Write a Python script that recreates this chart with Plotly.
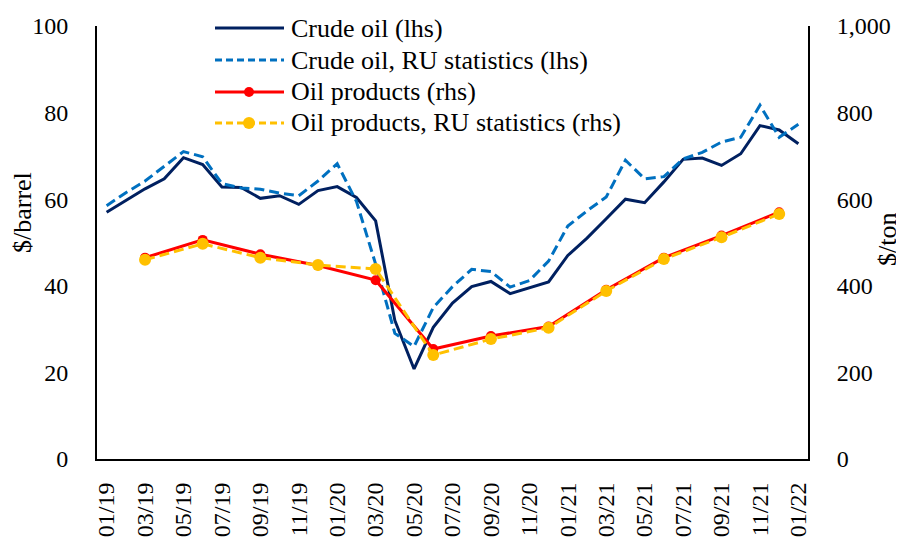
import plotly.graph_objects as go

months = ["01/19","02/19","03/19","04/19","05/19","06/19","07/19","08/19","09/19","10/19","11/19","12/19",
          "01/20","02/20","03/20","04/20","05/20","06/20","07/20","08/20","09/20","10/20","11/20","12/20",
          "01/21","02/21","03/21","04/21","05/21","06/21","07/21","08/21","09/21","10/21","11/21","12/21",
          "01/22"]
crude = [57, 59.7, 62.4, 64.7, 69.6, 68, 62.8, 62.7, 60.2, 60.8, 58.8, 62,
         62.9, 60.4, 55, 32, 20.8, 30.4, 36, 39.8, 41, 38.2, 39.5, 40.9,
         47, 51, 55.5, 60, 59.2, 64, 69.2, 69.5, 67.8, 70.5, 77, 76,
         72.8]
crude_ru = [58.5, 61.5, 64.2, 67.5, 71, 69.8, 63.6, 62.6, 62.3, 61.4, 60.8, 64.2,
            68.2, 59.5, 45, 29, 26, 35, 39.8, 43.8, 43.3, 39.7, 41.2, 45.7,
            53.8, 57.3, 60.5, 69, 64.7, 65.2, 69.3, 70.8, 73.2, 74.3, 81.7, 74.3,
            77.3]
prod_months = ["03/19","06/19","09/19","12/19","03/20","06/20","09/20","12/20","03/21","06/21","09/21","12/21"]
products = [465, 506, 473, 447, 413, 254, 284, 306, 391, 465, 516, 570]
products_ru = [460, 497, 465, 448, 439, 240, 277, 303, 388, 462, 512, 566]
tick_labels = months[::2]

names = ["Crude oil (lhs)", "Crude oil, RU statistics (lhs)", "Oil products (rhs)", "Oil products, RU statistics (rhs)"]
NAVY, BLUE, RED, GOLD = "#002060", "#0070C0", "#FF0000", "#FFC000"
FONT = "Liberation Serif, Times New Roman, serif"
FS = 24
FL = 26

fig = go.Figure()
fig.add_trace(go.Scatter(x=months, y=crude, mode="lines", name=names[0],
                         line=dict(color=NAVY, width=3)))
fig.add_trace(go.Scatter(x=months, y=crude_ru, mode="lines", name=names[1],
                         line=dict(color=BLUE, width=3, dash="10px,5px")))
fig.add_trace(go.Scatter(x=prod_months, y=products, mode="lines+markers", name=names[2], yaxis="y2",
                         line=dict(color=RED, width=3), marker=dict(color=RED, size=10)))
fig.add_trace(go.Scatter(x=prod_months, y=products_ru, mode="lines+markers", name=names[3], yaxis="y2",
                         line=dict(color=GOLD, width=3, dash="10px,5px"), marker=dict(color=GOLD, size=12)))

# page has an 8px body margin: build the figure in page coordinates minus that offset
OFF = 8
W, H = 904 - OFF, 537 - OFF
PL, PR, PT, PB = 97, 808, 26, 459          # plot area in page pixels
L, T = PL - OFF, PT - OFF
R, B = W - (PR - OFF), H - (PB - OFF)
pw, ph = PR - PL, PB - PT

def px(x):
    return (x - PL) / pw

def py(y):
    return (PB - y) / ph

# custom legend
rows = [28, 60, 92, 123]
styles = [(NAVY, "solid", None, 0), (BLUE, "dash", None, 0), (RED, "solid", RED, 10), (GOLD, "dash", GOLD, 12)]
shapes = []
annotations = []
for r, nm, (col, dash, mcol, msz) in zip(rows, names, styles):
    shapes.append(dict(type="line", xref="paper", yref="paper", x0=px(215), x1=px(284), y0=py(r), y1=py(r),
                       line=dict(color=col, width=3, dash="7px,4px" if dash == "dash" else "solid")))
    if mcol:
        rr = msz / 2
        shapes.append(dict(type="circle", xref="paper", yref="paper", x0=px(249 - rr), x1=px(249 + rr),
                           y0=py(r + rr), y1=py(r - rr), fillcolor=mcol, line=dict(color=mcol, width=0)))
    annotations.append(dict(text=nm, xref="paper", yref="paper", x=px(289), y=py(r), xanchor="left",
                            yanchor="middle", showarrow=False, font=dict(family=FONT, size=FL, color="black")))

annotations.append(dict(text="$/barrel", xref="paper", yref="paper", x=px(22), y=py(213), textangle=-90,
                        xanchor="center", yanchor="middle", showarrow=False,
                        font=dict(family=FONT, size=FL, color="black")))
annotations.append(dict(text="$/ton", xref="paper", yref="paper", x=px(887), y=py(240), textangle=-90,
                        xanchor="center", yanchor="middle", showarrow=False, borderpad=0,
                        font=dict(family=FONT, size=FL, color="black")))

fig.update_layout(
    width=W, height=H,
    margin=dict(l=L, r=R, t=T, b=B, autoexpand=False),
    paper_bgcolor="white", plot_bgcolor="white",
    showlegend=False,
    font=dict(family=FONT, size=FS, color="black"),
    xaxis=dict(type="category", categoryorder="array", categoryarray=months, range=[-0.5, 36.5],
               tickmode="array", tickvals=tick_labels, ticktext=tick_labels, tickangle=-90,
               showline=True, linecolor="black", linewidth=2, showgrid=False, ticks="",
               ticklabelstandoff=12, tickfont=dict(family=FONT, size=FS), automargin=False),
    yaxis=dict(range=[0, 100], dtick=20, showline=True, linecolor="black", linewidth=2,
               showgrid=False, zeroline=False, ticks="", ticklabelstandoff=22,
               tickfont=dict(family=FONT, size=FS), automargin=False),
    yaxis2=dict(range=[0, 1000], dtick=200, tickformat=",", overlaying="y", side="right",
                showline=True, linecolor="black", linewidth=2, showgrid=False, zeroline=False,
                ticks="", ticklabelstandoff=22, tickfont=dict(family=FONT, size=FS), automargin=False),
    shapes=shapes,
    annotations=annotations,
)

fig.write_html("out.html")
